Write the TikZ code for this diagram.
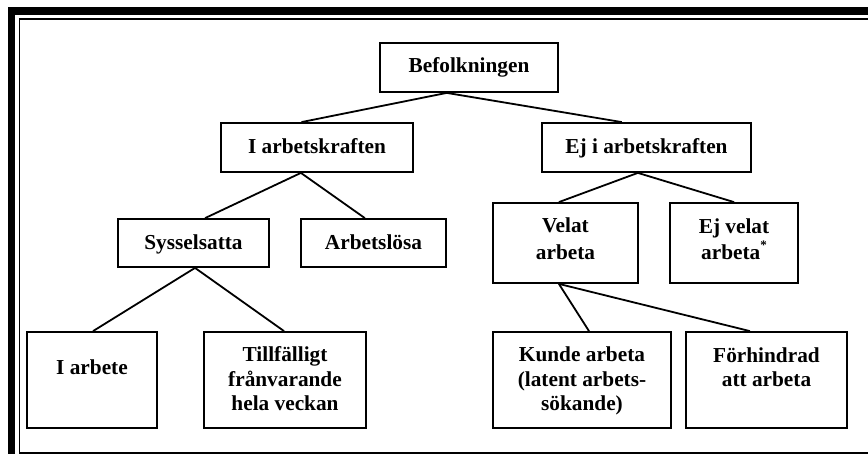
\documentclass[tikz,border=0pt]{standalone}
\usepackage{fontspec}
\setmainfont{Liberation Serif}
\usetikzlibrary{calc}
\begin{document}
\begin{tikzpicture}[x=1pt,y=-1pt,
  box/.style={draw, line width=1.8pt, inner sep=0pt, rectangle},
  txt/.style={inner sep=0pt, font=\fontsize{21.3}{24.5}\selectfont\bfseries, align=center, anchor=base},
  txtwide/.style={txt, font=\fontsize{21.3}{26.5}\selectfont\bfseries},
  conn/.style={line width=1.8pt},
  frameouter/.style={line width=7.5pt},
  frameinner/.style={line width=1.8pt}]
\useasboundingbox (0,0) rectangle (868,454);
\begin{scope}
\clip (0,0) rectangle (868,454);
\draw[frameouter] (11.5,11) rectangle (900,470);
\draw[frameinner] (19.5,19.3) rectangle (900,452.8);
\end{scope}
% boxes
\node[box, minimum width=178pt, minimum height=49pt] (bef) at (469,67.5) {};
\node[box, minimum width=192pt, minimum height=49pt] (ia) at (317,147.5) {};
\node[box, minimum width=209pt, minimum height=49pt] (ej) at (646.5,147.5) {};
\node[box, minimum width=151pt, minimum height=48pt] (sys) at (193.5,243) {};
\node[box, minimum width=145pt, minimum height=48pt] (arbl) at (373.5,243) {};
\node[box, minimum width=145pt, minimum height=80pt] (vel) at (565.5,243) {};
\node[box, minimum width=128pt, minimum height=80pt] (ejv) at (734,243) {};
\node[box, minimum width=130pt, minimum height=96pt] (iarb) at (92,380) {};
\node[box, minimum width=162pt, minimum height=96pt] (till) at (285,380) {};
\node[box, minimum width=178pt, minimum height=96pt] (kun) at (582,380) {};
\node[box, minimum width=161pt, minimum height=96pt] (forh) at (766.5,380) {};
% texts (multi-line nodes: base = last line)
\node[txt] (befT) at (469,73) {Befolkningen};
\node[txt] (iaT) at (317,154) {I arbetskraften};
\node[txt] (ejT) at (646.5,154) {Ej i arbetskraften};
\node[txt] (sysT) at (193.5,249.5) {Sysselsatta};
\node[txt] (arblT) at (373.5,249.5) {Arbetslösa};
\node[txtwide] (velT) at (565.5,259.5) {Velat\\arbeta};
\node[txtwide] (ejvT) at (734,260) {Ej velat\\arbeta\raisebox{10pt}{\fontsize{13}{13}\selectfont *}};
\node[txt] (iarbT) at (92,375) {I arbete};
\node[txt] (tillT) at (285,410.5) {Tillfälligt\\frånvarande\\hela veckan};
\node[txt] (kunT) at (582,410.5) {Kunde arbeta\\(latent arbets-\\sökande)};
\node[txt] (forhT) at (766.5,386.5) {Förhindrad\\att arbeta};
% connectors
\draw[conn] ($(bef.south west)!0.376!(bef.south east)$) -- ($(ia.north west)!0.42!(ia.north east)$);
\draw[conn] ($(bef.south west)!0.376!(bef.south east)$) -- ($(ej.north west)!0.383!(ej.north east)$);
\draw[conn] ($(ia.south west)!0.417!(ia.south east)$) -- ($(sys.north west)!0.576!(sys.north east)$);
\draw[conn] ($(ia.south west)!0.417!(ia.south east)$) -- ($(arbl.north west)!0.441!(arbl.north east)$);
\draw[conn] ($(ej.south west)!0.459!(ej.south east)$) -- ($(vel.north west)!0.455!(vel.north east)$);
\draw[conn] ($(ej.south west)!0.459!(ej.south east)$) -- ($(ejv.north west)!0.5!(ejv.north east)$);
\draw[conn] ($(sys.south west)!0.51!(sys.south east)$) -- ($(iarb.north west)!0.508!(iarb.north east)$);
\draw[conn] ($(sys.south west)!0.51!(sys.south east)$) -- ($(till.north west)!0.494!(till.north east)$);
\draw[conn] ($(vel.south west)!0.455!(vel.south east)$) -- ($(kun.north west)!0.539!(kun.north east)$);
\draw[conn] ($(vel.south west)!0.455!(vel.south east)$) -- ($(forh.north west)!0.398!(forh.north east)$);
\end{tikzpicture}
\end{document}
